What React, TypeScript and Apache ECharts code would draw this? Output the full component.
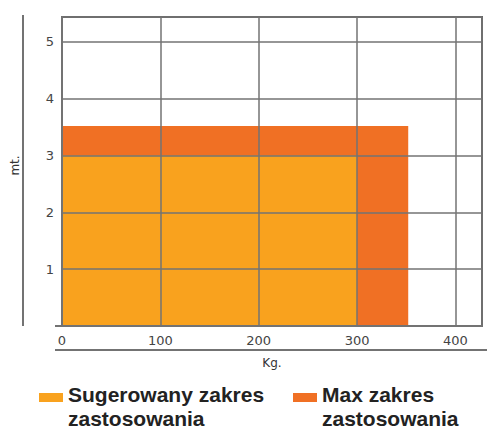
import React, { useEffect, useRef } from 'react';
import * as echarts from 'echarts';

const seriesNames = ['Sugerowany zakres', 'Max zakres'];
const legendLabels = ['Sugerowany zakres\nzastosowania', 'Max zakres\nzastosowania'];
const loadKg = [300, 352];
const heightMt = [3, 3.52];
const colors = ['#F9A21E', '#F07024'];
const xAxisName = 'Kg.';
const yAxisName = 'mt.';

export default function App() {
  const ref = useRef<HTMLDivElement>(null);
  useEffect(() => {
    const chart = echarts.init(ref.current as HTMLDivElement, null, { renderer: 'svg' });
    const order = [1, 0];
    const series = order.map((i) => ({
      type: 'custom',
      name: seriesNames[i],
      data: [[loadKg[i], heightMt[i]]],
      encode: { x: 0, y: 1 },
      itemStyle: { color: colors[i] },
      z: 2,
      renderItem: (params: any, api: any) => {
        const o = api.coord([0, 0]);
        const p = api.coord([api.value(0), api.value(1)]);
        return {
          type: 'rect',
          shape: { x: o[0], y: p[1], width: p[0] - o[0], height: o[1] - p[1] },
          style: { fill: colors[i] },
        };
      },
    }));
    const gridColor = '#737373';
    const labelFont = '"DejaVu Sans", sans-serif';
    const legendFont = 'bold 21px "Liberation Sans", Arial, sans-serif';
    const legendX = [39, 293];
    const graphic: any[] = [
      { type: 'line', shape: { x1: 23, y1: 15, x2: 23, y2: 326 }, style: { stroke: gridColor, lineWidth: 2 } },
      { type: 'line', shape: { x1: 55, y1: 350, x2: 487, y2: 350 }, style: { stroke: gridColor, lineWidth: 2 } },
      { type: 'line', shape: { x1: 55, y1: 326, x2: 63, y2: 326 }, style: { stroke: gridColor, lineWidth: 2 } },
    ];
    legendLabels.forEach((label, i) => {
      graphic.push({ type: 'rect', shape: { x: legendX[i], y: 393, width: 24, height: 9 }, style: { fill: colors[i] } });
      graphic.push({
        type: 'text',
        x: legendX[i] + 29,
        y: 382,
        style: { text: label, font: legendFont, fill: '#222', lineHeight: 24, verticalAlign: 'top', align: 'left' },
      });
    });
    chart.setOption({
      animation: false,
      backgroundColor: '#ffffff',
      grid: {
        left: 62, right: 5, top: 17, bottom: 104,
        show: true, borderColor: '#666', borderWidth: 2, backgroundColor: 'transparent',
      },
      xAxis: {
        type: 'value', min: 0, max: 427, interval: 100, z: 5,
        name: xAxisName, nameLocation: 'middle', nameGap: 31,
        nameTextStyle: { fontFamily: labelFont, fontSize: 12, color: '#333' },
        axisLine: { show: true, lineStyle: { color: gridColor, width: 2 } },
        axisTick: { show: false },
        axisLabel: { showMaxLabel: false, margin: 8, fontFamily: labelFont, fontSize: 13, color: '#444' },
        splitLine: { show: true, lineStyle: { color: gridColor, width: 1.5 } },
      },
      yAxis: {
        type: 'value', min: 0, max: 5.44, interval: 1, z: 5,
        name: yAxisName, nameLocation: 'middle', nameGap: 41,
        nameTextStyle: { fontFamily: labelFont, fontSize: 12, color: '#333', padding: [0, 0, 0, 12] },
        axisLine: { show: true, lineStyle: { color: gridColor, width: 2 } },
        axisTick: { show: false },
        axisLabel: { showMaxLabel: false, showMinLabel: false, margin: 8, fontFamily: labelFont, fontSize: 13, color: '#444' },
        splitLine: { show: true, lineStyle: { color: gridColor, width: 1.5 } },
      },
      series,
      graphic,
    });
    return () => chart.dispose();
  }, []);
  return <div ref={ref} style={{ position: 'fixed', left: 0, top: 0, width: 487, height: 430 }} />;
}
